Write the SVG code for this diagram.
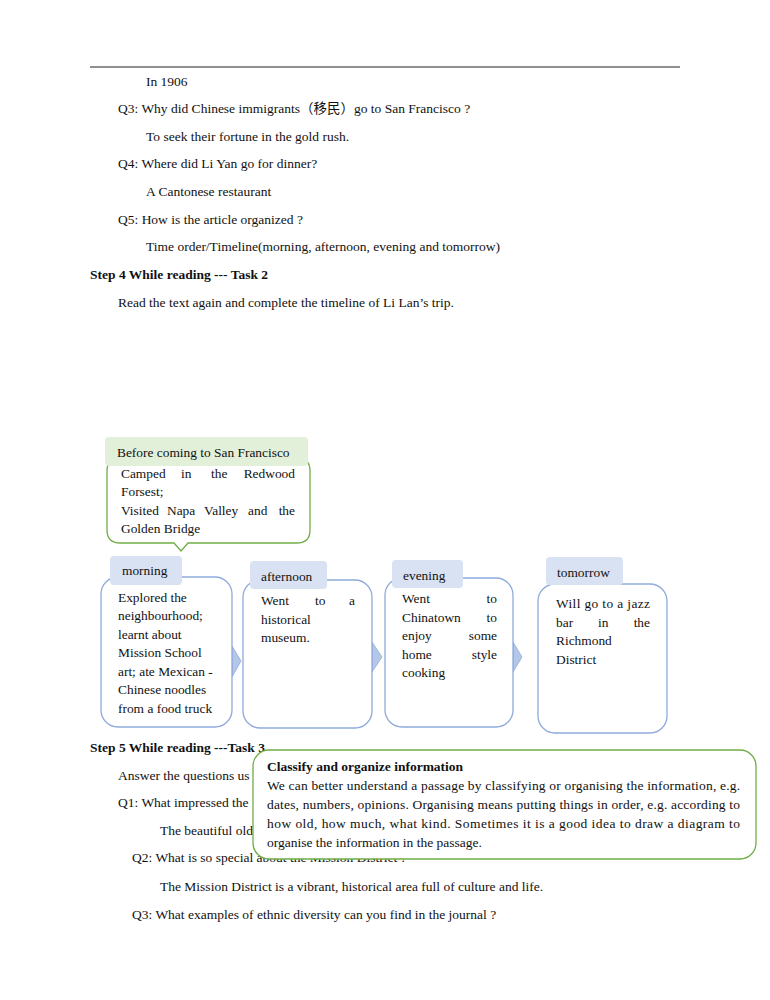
<svg xmlns="http://www.w3.org/2000/svg" width="770" height="1000" viewBox="0 0 770 1000">
<style>
.t{font-family:"Liberation Serif","Times New Roman","Noto Sans CJK SC",serif;font-size:13.5px;fill:#111}
.b{font-weight:bold}
.s{font-family:"Liberation Serif","Times New Roman",serif;font-size:13.4px;fill:#111}
.gh{fill:#e2efd9;stroke:none}
.gb{fill:#fff;stroke:#70ad47;stroke-width:1.3}
.bh{fill:#d9e2f3;stroke:none}
.bb{fill:#fff;stroke:#8faadc;stroke-width:1.3}
.ar{fill:#b4c7e7;stroke:#8faadc;stroke-width:0.8}
</style>
<rect width="770" height="1000" fill="#fff"/>
<line x1="90" y1="67" x2="680" y2="67" stroke="#222" stroke-width="1"/>
<g id="page-text">
<text class="t" x="146" y="86">In 1906</text>
<text class="t" x="118" y="113">Q3: Why did Chinese immigrants（移民）go to San Francisco ?</text>
<text class="t" x="146" y="141">To seek their fortune in the gold rush.</text>
<text class="t" x="118" y="168">Q4: Where did Li Yan go for dinner?</text>
<text class="t" x="146" y="196">A Cantonese restaurant</text>
<text class="t" x="118" y="224">Q5: How is the article organized ?</text>
<text class="t" x="146" y="251">Time order/Timeline(morning, afternoon, evening and tomorrow)</text>
<text class="t b" x="90" y="279">Step 4 While reading --- Task 2</text>
<text class="t" x="118" y="307">Read the text again and complete the timeline of Li Lan’s trip.</text>
<text class="t b" x="90" y="752">Step 5 While reading ---Task 3</text>
<text class="t" x="118" y="780">Answer the questions us</text>
<text class="t" x="118" y="807">Q1: What impressed the</text>
<text class="t" x="160" y="835">The beautiful old</text>
<text class="t" x="132" y="862">Q2: What is so special about the Mission District ?</text>
<text class="t" x="160" y="891">The Mission District is a vibrant, historical area full of culture and life.</text>
<text class="t" x="132" y="919">Q3: What examples of ethnic diversity can you find in the journal ?</text>
</g>
<g id="connectors">
<path class="ar" d="M232,646 L241,661 L232,677 Z"/>
<path class="ar" d="M372,642 L382,657 L372,672 Z"/>
<path class="ar" d="M513,642 L522,657 L513,672 Z"/>
</g>
<g id="before">
<path class="gb" d="M120,458 H297 Q310,458 310,471 V530 Q310,543 297,543 H188 L181,551 L174,543 H120 Q107,543 107,530 V471 Q107,458 120,458 Z"/>
<rect class="gh" x="105" y="437" width="203" height="29" rx="4"/>
<text class="s" x="117" y="457">Before coming to San Francisco</text>
<text class="s" y="478"><tspan x="121">Camped</tspan><tspan x="181">in</tspan><tspan x="211">the</tspan><tspan x="295" text-anchor="end">Redwood</tspan></text>
<text class="s" x="121" y="496">Forsest;</text>
<text class="s" y="515"><tspan x="121">Visited</tspan><tspan x="167">Napa</tspan><tspan x="204">Valley</tspan><tspan x="248">and</tspan><tspan x="295" text-anchor="end">the</tspan></text>
<text class="s" x="121" y="533">Golden Bridge</text>
</g>
<g id="morning">
<rect class="bb" x="101" y="577" width="131" height="150" rx="17"/>
<rect class="bh" x="110" y="556" width="72" height="29" rx="4"/>
<text class="s" x="122" y="575">morning</text>
<text class="s" x="118" y="602">Explored the</text>
<text class="s" x="118" y="620">neighbourhood;</text>
<text class="s" x="118" y="639">learnt about</text>
<text class="s" x="118" y="657">Mission School</text>
<text class="s" x="118" y="676">art; ate Mexican -</text>
<text class="s" x="118" y="694">Chinese noodles</text>
<text class="s" x="118" y="713">from a food truck</text>
</g>
<g id="afternoon">
<rect class="bb" x="243" y="580" width="129" height="148" rx="17"/>
<rect class="bh" x="250" y="561" width="77" height="28" rx="4"/>
<text class="s" x="261" y="581">afternoon</text>
<text class="s" y="605"><tspan x="261">Went</tspan><tspan x="315">to</tspan><tspan x="355" text-anchor="end">a</tspan></text>
<text class="s" x="261" y="624">historical</text>
<text class="s" x="261" y="642">museum.</text>
</g>
<g id="evening">
<rect class="bb" x="385" y="578" width="128" height="149" rx="17"/>
<rect class="bh" x="392" y="560" width="71" height="28" rx="4"/>
<text class="s" x="403" y="580">evening</text>
<text class="s" y="603"><tspan x="402">Went</tspan><tspan x="497" text-anchor="end">to</tspan></text>
<text class="s" y="622"><tspan x="402">Chinatown</tspan><tspan x="497" text-anchor="end">to</tspan></text>
<text class="s" y="640"><tspan x="402">enjoy</tspan><tspan x="497" text-anchor="end">some</tspan></text>
<text class="s" y="659"><tspan x="402">home</tspan><tspan x="497" text-anchor="end">style</tspan></text>
<text class="s" x="402" y="677">cooking</text>
</g>
<g id="tomorrow">
<rect class="bb" x="538" y="584" width="129" height="149" rx="17"/>
<rect class="bh" x="546" y="557" width="77" height="28" rx="4"/>
<text class="s" x="557" y="577">tomorrow</text>
<text class="s" x="556" y="608" textLength="94" lengthAdjust="spacing">Will go to a jazz</text>
<text class="s" y="627"><tspan x="556">bar</tspan><tspan x="598">in</tspan><tspan x="650" text-anchor="end">the</tspan></text>
<text class="s" x="556" y="645">Richmond</text>
<text class="s" x="556" y="664">District</text>
</g>
<g id="classify">
<rect class="gb" x="253" y="750" width="503" height="109" rx="16"/>
<text class="t b" x="267" y="771">Classify and organize information</text>
<text class="t" x="267" y="790" textLength="473" lengthAdjust="spacing">We can better understand a passage by classifying or organising the information, e.g.</text>
<text class="t" x="267" y="809" textLength="473" lengthAdjust="spacing">dates, numbers, opinions. Organising means putting things in order, e.g. according to</text>
<text class="t" x="267" y="828" textLength="473" lengthAdjust="spacing">how old, how much, what kind. Sometimes it is a good idea to draw a diagram to</text>
<text class="t" x="267" y="847">organise the information in the passage.</text>
</g>
</svg>
